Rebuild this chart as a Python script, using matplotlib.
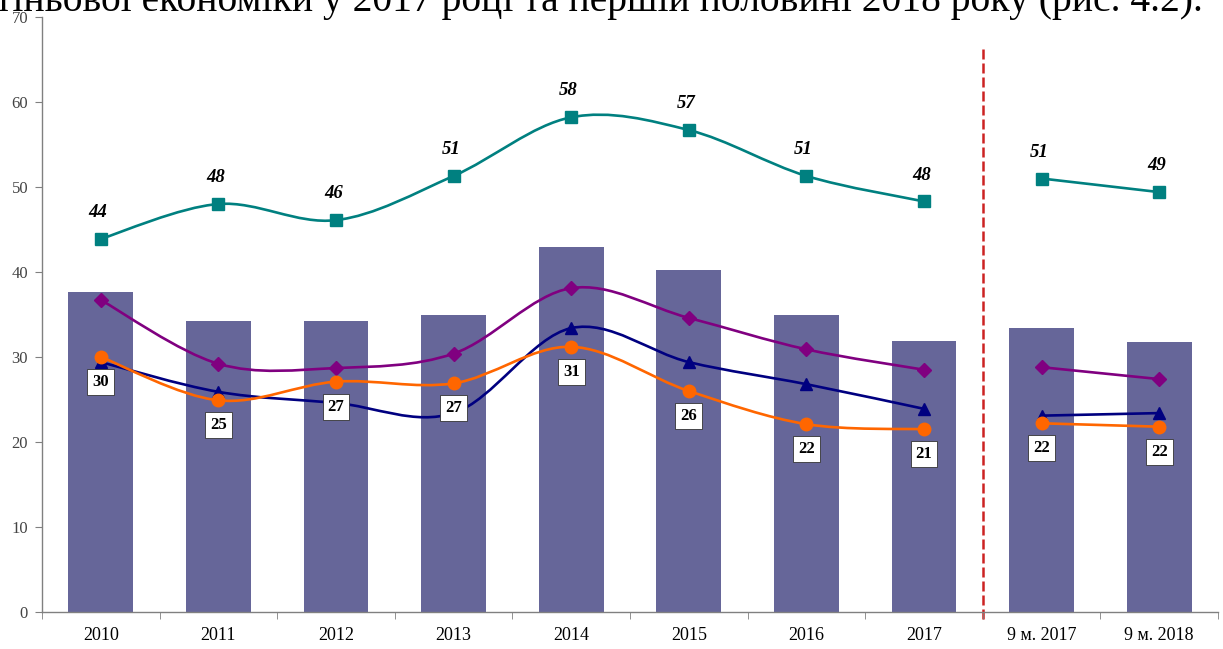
import numpy as np
import matplotlib
matplotlib.use('Agg')
import matplotlib.pyplot as plt
from matplotlib.path import Path
from matplotlib.patches import PathPatch

plt.rcParams['font.family'] = ['Liberation Serif', 'DejaVu Serif']

# дані
categories = ['2010', '2011', '2012', '2013', '2014', '2015', '2016', '2017', '9 м. 2017', '9 м. 2018']
bars = [37.6, 34.2, 34.2, 34.9, 42.9, 40.2, 34.9, 31.9, 33.4, 31.8]
teal = [43.9, 48.0, 46.1, 51.3, 58.2, 56.7, 51.3, 48.3, 51.0, 49.4]
teal_labels = ['44', '48', '46', '51', '58', '57', '51', '48', '51', '49']
purple = [36.7, 29.2, 28.7, 30.4, 38.1, 34.6, 30.9, 28.5, 28.8, 27.4]
navy = [29.4, 25.9, 24.6, 23.4, 33.4, 29.4, 26.8, 23.9, 23.1, 23.4]
orange = [30.0, 24.9, 27.1, 26.9, 31.2, 26.0, 22.1, 21.5, 22.2, 21.8]
orange_labels = ['30', '25', '27', '27', '31', '26', '22', '21', '22', '22']

# річні точки та 9 місяців малюються окремими відрізками
segments = [slice(0, 8), slice(8, 10)]


def smooth_path(xs, ys):
    # згладжування як у Excel (Безьє через сусідні точки)
    pts = np.column_stack([xs, ys]).astype(float)
    n = len(pts)
    verts = [pts[0]]
    codes = [Path.MOVETO]
    for i in range(n - 1):
        p0 = pts[max(i - 1, 0)]
        p1 = pts[i]
        p2 = pts[i + 1]
        p3 = pts[min(i + 2, n - 1)]
        verts += [p1 + (p2 - p0) / 6, p2 - (p3 - p1) / 6, p2]
        codes += [Path.CURVE4] * 3
    return Path(verts, codes)


fig = plt.figure(figsize=(12.23, 6.49), dpi=100)
ax = fig.add_axes([42 / 1223, 37 / 649, 1176 / 1223, 595 / 649])

x = np.arange(len(categories))
ax.bar(x, bars, width=0.55, color='#666699', zorder=1)

series = [
    (teal, '#008080', 's', 9),
    (purple, '#800080', 'D', 7),
    (navy, '#000080', '^', 8.5),
    (orange, '#FF6600', 'o', 9),
]
for k, (vals, col, mk, ms) in enumerate(series):
    vals = np.array(vals)
    for s in segments:
        patch = PathPatch(smooth_path(x[s], vals[s]), fill=False, edgecolor=col,
                          lw=1.9, zorder=2 + k)
        ax.add_patch(patch)
    ax.plot(x, vals, linestyle='none', marker=mk, ms=ms, color=col, zorder=2 + k)

for xi, v, lab in zip(x, teal, teal_labels):
    ax.annotate(lab, (xi, v), xytext=(-2, 19), textcoords='offset points',
                ha='center', va='center', fontsize=13.5, fontweight='bold',
                fontstyle='italic', color='black', zorder=10)

for xi, v, lab in zip(x, orange, orange_labels):
    ax.annotate(lab, (xi, v), xytext=(0, -18), textcoords='offset points',
                ha='center', va='center', fontsize=12, fontweight='bold',
                color='black', zorder=10,
                bbox=dict(boxstyle='square,pad=0.3', fc='white', ec='#333333', lw=0.6))

# червона пунктирна лінія між роками та 9 місяцями
ax.plot([7.5, 7.5], [-0.8, 66.6], color='#cc2222', lw=1.8, dashes=(4, 1.6),
        clip_on=False, zorder=1.5)

ax.set_xlim(-0.5, 9.5)
ax.set_ylim(0, 70)
ax.set_yticks(range(0, 71, 10))
ax.set_xticks(x)
ax.set_xticklabels(categories, fontsize=13)
ax.set_xticks(np.arange(-0.5, 10, 1), minor=True)
ax.tick_params(axis='x', which='major', length=0, pad=11)
ax.tick_params(axis='x', which='minor', length=5, color='#808080')
ax.tick_params(axis='y', length=5, color='#808080', labelsize=12,
               labelcolor='#444444', pad=5)

for side in ['top', 'right']:
    ax.spines[side].set_visible(False)
for side in ['left', 'bottom']:
    ax.spines[side].set_color('#808080')
    ax.spines[side].set_linewidth(1)

fig.text(-0.004, 1 - 11 / 649, 'тіньової економіки у 2017 році та першій половині 2018 року (рис. 4.2).',
         fontsize=28.5, va='baseline', ha='left', color='black')

fig.savefig('out.png', dpi=100)
